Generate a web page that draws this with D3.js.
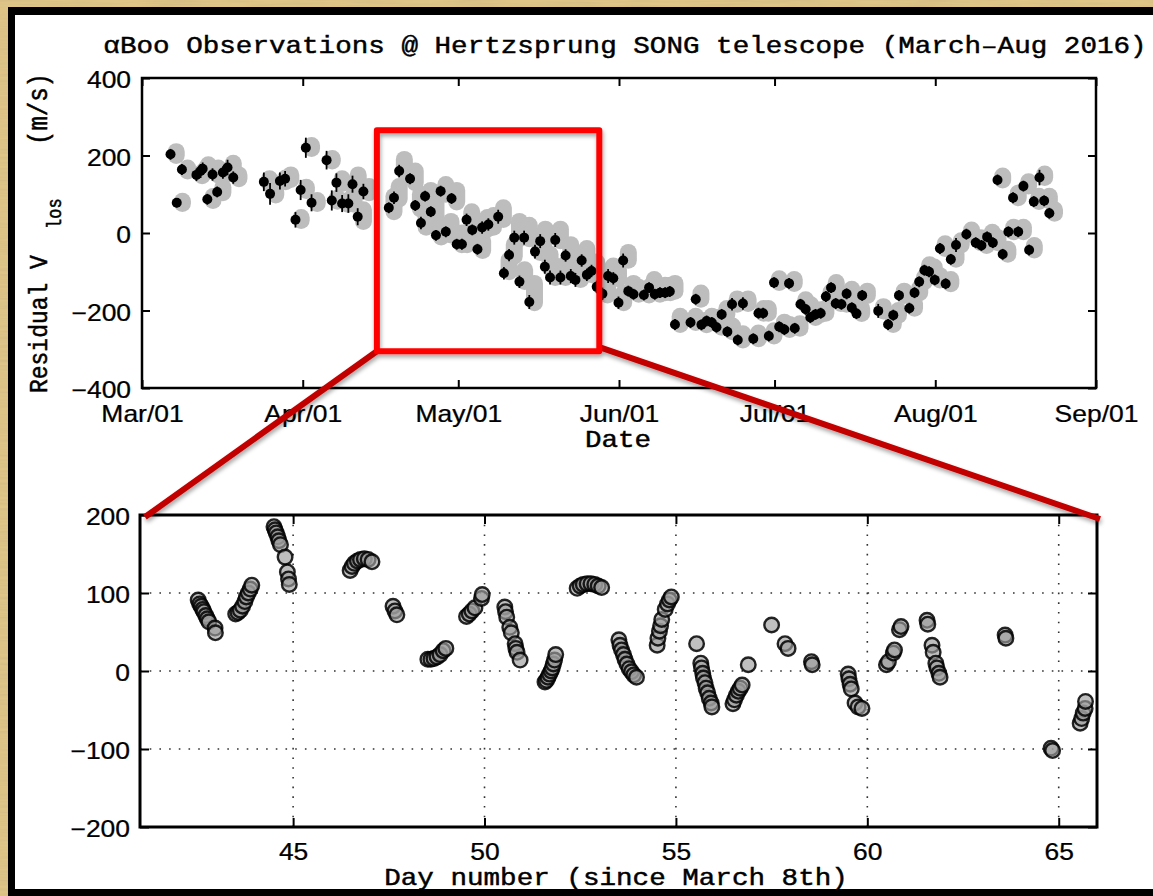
<!DOCTYPE html>
<html>
<head>
<meta charset="utf-8">
<script src="https://cdn.jsdelivr.net/npm/d3@7"></script>
<style>
  html, body { margin: 0; padding: 0; background: #dcc283; overflow: hidden; }
  svg { display: block; }
</style>
</head>
<body>
<svg id="fig" width="1153" height="896"></svg>
<script>
// ---------------- data ----------------
// Nightly means: [days since 2016-03-01, residual velocity (m/s), error (m/s)]
const nightly = [
  [5.5,203,14],[6.7,78,12],[7.7,164,14],[10.5,150,16],[11.3,160,18],[11.7,166,16],
  [12.6,87,14],[13.6,151,16],[14.5,106,14],[15.6,156,16],[16.5,169,20],[17.6,143,16],
  [23.5,132,24],[24.7,101,28],[26.6,134,22],[27.6,140,20],[29.6,34,20],[30.6,111,26],
  [31.6,220,26],[32.7,78,22],[35.6,188,24],[36.6,84,26],[37.5,130,24],[38.6,76,22],
  [39.8,76,24],[40.6,126,22],[41.6,42,22],[42.7,107,20],
  [47.6,65,14],[48.6,91,16],[49.6,160,16],[51.7,140,14],[52.7,71,14],[53.8,26,16],
  [54.6,95,14],[55.7,55,14],[56.7,-6,14],[57.6,108,14],[58.6,3,14],[59.7,89,14],
  [60.7,-29,14],[61.7,-29,14],[62.6,34,16],[63.7,8,14],[64.7,-42,14],[65.6,14,16],
  [66.8,22,16],[68.7,42,18],[69.8,-104,16],[70.8,-57,16],[71.8,-12,18],[72.8,-126,16],
  [73.7,-12,18],[74.7,-178,18],[75.8,-48,18],[76.8,-21,18],[77.7,-87,18],[78.7,-115,18],
  [79.7,-18,18],[80.7,-115,18],[81.7,-58,16],[82.7,-111,18],[83.6,-121,18],[84.8,-71,16],
  [85.8,-108,16],[86.7,-98,16],[87.7,-139,16],[88.8,-157,16],[89.9,-111,18],[90.9,-117,16],
  [91.9,-180,16],[92.8,-71,18],[93.8,-150,14],[94.8,-158,14],[96.8,-160,14],[97.8,-141,14],
  [98.9,-158,14],[99.9,-154,14],[100.9,-154,14],[101.8,-151,14],[102.8,-236,14],
  [105.8,-231,14],[106.8,-171,14],[107.9,-237,14],[108.9,-227,14],[109.9,-231,14],
  [110.8,-243,14],[111.8,-210,14],[112.9,-255,14],[113.8,-184,16],[114.9,-276,14],
  [115.9,-182,16],[117.9,-273,14],[118.9,-207,14],[119.8,-207,14],[120.9,-266,14],
  [121.9,-128,14],[122.9,-242,14],[123.9,-249,14],[124.8,-130,14],[125.9,-246,14],
  [127.0,-184,14],[128.0,-197,14],[128.9,-218,14],[129.9,-210,14],[130.9,-207,14],
  [131.9,-164,14],[132.9,-141,14],[133.8,-182,14],[134.9,-184,14],[135.9,-157,14],
  [136.9,-193,14],[137.8,-208,14],[138.9,-161,14],[142.0,-201,18],[143.9,-236,14],
  [144.9,-212,14],[146.0,-161,14],[148.0,-194,14],[149.0,-154,14],[149.9,-126,14],
  [150.9,-96,14],[151.8,-100,14],[152.9,-121,14],[153.9,-40,14],[155.0,-131,14],
  [156.0,-68,14],[157.0,-31,18],[159.0,-3,14],[160.8,-25,14],[161.9,-32,14],
  [163.0,-10,14],[164.1,-25,14],[165.0,137,14],[166.0,-55,14],[167.1,3,14],
  [168.0,91,14],[169.0,3,14],[170.0,121,14],[171.1,-44,14],[172.0,81,14],
  [173.1,143,20],[174.0,83,14],[175.0,51,14]
];

// Spread of the individual exposures of each night: [day, lowest, highest] (m/s)
const spread = [
  [6.6,200,210],[7.8,76,82],[8.8,160,168],[11.6,148,156],[12.4,158,168],[12.8,164,176],
  [13.7,84,94],[14.7,150,168],[15.6,104,118],[16.7,152,162],[17.6,168,180],[18.7,140,150],
  [24.6,128,140],[25.8,98,106],[27.7,132,142],[28.7,138,150],[30.7,32,40],[31.7,110,118],
  [32.7,218,226],[33.8,76,84],[36.7,186,192],[37.7,82,90],[38.6,128,140],[39.7,74,84],
  [40.9,74,104],[41.7,124,150],[42.7,30,60],[43.8,104,120],
  [48.6,55,95],[49.6,88,120],[50.6,158,190],[52.7,130,160],[53.7,62,100],[54.8,15,50],
  [55.7,85,110],[56.7,45,80],[57.7,-10,20],[58.6,100,125],[59.6,-5,30],[60.7,80,110],
  [61.7,-30,0],[62.7,-30,0],[63.6,25,55],[64.7,0,30],[65.7,-45,-20],[66.6,10,40],
  [67.8,15,45],[69.7,35,65],[70.8,-100,-70],[71.8,-60,-30],[72.8,-15,30],[73.8,-125,-95],
  [74.7,-15,20],[75.7,-180,-130],[76.8,-50,-20],[77.8,-20,10],[78.7,-90,-55],[79.7,-115,-85],
  [80.7,-20,10],[81.7,-115,-80],[82.7,-60,-30],[83.7,-110,-80],[84.6,-120,-90],[85.8,-70,-40],
  [86.8,-108,-85],[87.7,-100,-75],[88.7,-140,-115],[89.8,-160,-130],[90.9,-110,-85],
  [91.9,-118,-95],[92.9,-180,-155],[93.8,-70,-50],[94.8,-150,-130],[95.8,-158,-140],
  [97.8,-160,-140],[98.8,-140,-120],[99.9,-158,-140],[100.9,-154,-135],[101.9,-154,-135],
  [102.8,-150,-130],[103.8,-236,-215],[106.8,-231,-215],[107.8,-171,-155],[108.9,-237,-225],
  [109.9,-227,-215],[110.9,-231,-218],[111.8,-243,-230],[112.8,-210,-195],[113.9,-255,-240],
  [114.8,-184,-170],[115.9,-276,-260],[116.9,-182,-170],[118.9,-273,-258],[119.9,-207,-195],
  [120.8,-207,-195],[121.9,-266,-252],[122.9,-128,-118],[123.9,-242,-230],[124.9,-249,-236],
  [125.8,-130,-120],[126.9,-246,-234],[128.0,-184,-172],[129.0,-197,-185],[129.9,-218,-205],
  [130.9,-210,-198],[131.9,-207,-195],[132.9,-164,-152],[133.9,-141,-128],[134.8,-182,-170],
  [135.9,-184,-172],[136.9,-157,-145],[137.9,-193,-180],[138.8,-208,-195],[139.9,-161,-150],
  [143.0,-201,-190],[144.9,-236,-224],[145.9,-212,-200],[147.0,-161,-150],[149.0,-194,-182],
  [150.0,-154,-142],[150.9,-126,-115],[151.9,-96,-82],[152.8,-100,-88],[153.9,-121,-110],
  [154.9,-40,-28],[156.0,-131,-120],[157.0,-68,-55],[158.0,-31,-20],[160.0,-3,8],
  [161.8,-25,-12],[162.9,-32,-20],[164.0,-10,2],[165.1,-25,-12],[166.0,137,147],
  [167.0,-55,-42],[168.1,3,15],[169.0,91,103],[170.0,3,15],[171.0,121,132],
  [172.1,-44,-32],[173.0,81,95],[174.1,143,152],[175.0,83,95],[176.0,51,60]
];

// Individual exposures, day number since March 8th vs residual (m/s)
const exposures = [
  [42.52,91],[42.56,86],[42.6,83],[42.64,79],[42.67,76],[42.72,71],[42.76,67],[42.8,63],[42.96,55],[42.97,49],
  [43.5,73],[43.56,75],[43.62,78],[43.68,83],[43.74,89],[43.78,95],[43.83,100],[43.88,105],[43.92,110],
  [44.5,185],[44.53,181],[44.56,177],[44.6,172],[44.63,167],[44.67,162],[44.79,146],[44.85,127],[44.88,118],[44.9,111],
  [46.49,129],[46.54,134],[46.6,138],[46.68,141],[46.76,143],[46.86,144],[46.96,143],[47.06,140],
  [47.61,83],[47.66,77],[47.71,72],
  [48.52,15],[48.6,15],[48.68,16],[48.76,18],[48.84,21],[48.92,26],[48.99,29],
  [49.53,70],[49.6,73],[49.67,77],[49.75,81],[49.92,93],[49.94,98],
  [50.53,82],[50.55,76],[50.58,69],[50.66,56],[50.7,49],[50.8,35],[50.82,29],[50.85,24],[50.93,14],
  [51.58,-14],[51.62,-12],[51.66,-8],[51.7,-4],[51.74,0],[51.77,4],[51.8,9],[51.83,14],[51.86,21],
  [52.42,106],[52.5,109],[52.58,111],[52.68,112],[52.78,112],[52.88,111],[52.97,109],[53.06,107],
  [53.51,40],[53.54,33],[53.58,27],[53.63,21],[53.67,15],[53.72,9],[53.78,3],[53.84,-1],[53.9,-5],[53.97,-8],
  [54.51,33],[54.53,42],[54.57,51],[54.6,58],[54.63,66],[54.72,79],[54.78,86],[54.83,91],[54.88,95],
  [55.54,35],
  [55.65,10],[55.67,4],[55.7,-3],[55.72,-9],[55.76,-15],[55.79,-22],[55.83,-28],[55.87,-35],[55.92,-41],[55.94,-46],
  [56.49,-42],[56.53,-37],[56.58,-31],[56.63,-26],[56.68,-22],[56.73,-18],
  [56.89,8],[57.5,59],[57.85,35],[57.93,29],[58.54,12],[58.56,8],
  [59.5,-4],[59.52,-10],[59.55,-17],[59.58,-23],[59.68,-41],[59.76,-46],[59.86,-48],
  [60.5,8],[60.55,12],[60.68,23],[60.71,27],[60.84,53],[60.88,57],
  [61.56,65],[61.58,60],[61.69,33],[61.72,24],[61.79,10],[61.82,4],[61.87,-3],[61.9,-8],
  [63.6,46],[63.62,42],
  [64.8,-99],[64.84,-102],
  [65.56,-67],[65.6,-61],[65.64,-54],[65.69,-48],[65.7,-39]
];

// Axis ticks and labels
const monthLabels = ["Mar/01","Apr/01","May/01","Jun/01","Jul/01","Aug/01","Sep/01"];
const velTicksTop = [-400,-200,0,200,400];
const dayTicks = [45,50,55,60,65];
const velTicksBottom = [-200,-100,0,100,200];
const gridVel = [-100,0,100];

// Highlighted window in the upper panel: [start day, end day], [upper, lower] velocity
const zoomDays = [45.3,88.2];
const zoomVel = [265,-305];

// ---------------- drawing ----------------
const W = 1153, H = 896;
const SX = 1.15; // horizontal glyph stretch
const MONO = "'Liberation Mono','DejaVu Sans Mono',monospace";
const SANS = "'Liberation Sans',Arial,Helvetica,sans-serif";
const svg = d3.select("#fig");
const defs = svg.append("defs");

// parchment texture for the surround
const paper = defs.append("filter").attr("id","paper").attr("x",0).attr("y",0).attr("width","100%").attr("height","100%");
paper.append("feTurbulence").attr("type","fractalNoise").attr("baseFrequency","0.02 0.35").attr("numOctaves",3).attr("seed",4).attr("result","n");
paper.append("feColorMatrix").attr("in","n").attr("type","matrix")
  .attr("values","0 0 0 0 0.62  0 0 0 0 0.47  0 0 0 0 0.22  1.1 0 0 0 -0.35");

const shadow = defs.append("filter").attr("id","shadow").attr("x","-10%").attr("y","-10%").attr("width","120%").attr("height","130%");
shadow.append("feDropShadow").attr("dx",1).attr("dy",3).attr("stdDeviation",2)
  .attr("flood-color","#000").attr("flood-opacity",0.35);

svg.append("rect").attr("width",W).attr("height",H).attr("fill","#dfc587");
svg.append("rect").attr("width",W).attr("height",H).attr("fill","#fff").attr("filter","url(#paper)");
svg.append("rect").attr("x",8).attr("y",7).attr("width",W).attr("height",H).attr("fill","#000");
svg.append("rect").attr("x",15).attr("y",15).attr("width",W).attr("height",874).attr("fill","#fff");

function txt(parent, x, y, str, font, size, anchor) {
  return parent.append("text")
    .attr("transform", `translate(${x},${y}) scale(${SX},1)`)
    .attr("font-family", font).attr("font-size", size)
    .attr("text-anchor", anchor || "middle").attr("fill", "#000")
    .attr("stroke", "#000").attr("stroke-width", 0.45)
    .text(str);
}

function styleAxis(g, size) {
  g.select(".domain").remove();
  g.selectAll(".tick line").attr("stroke","#000").attr("stroke-width",2);
  g.selectAll(".tick text").attr("font-family",SANS).attr("font-size",size).attr("fill","#000")
    .attr("stroke","#000").attr("stroke-width",0.25);
}

// ---------- upper panel ----------
const P1 = {l:142, r:1096, t:78, b:388};
const t0 = Date.UTC(2016,2,1);
const toDate = d => new Date(t0 + d*864e5);
const x1 = d3.scaleUtc().domain([toDate(0), new Date(Date.UTC(2016,8,1))]).range([P1.l,P1.r]);
const y1 = d3.scaleLinear().domain([-400,400]).range([P1.b,P1.t]);
const monthTicks = d3.utcMonth.range(new Date(Date.UTC(2016,2,1)), new Date(Date.UTC(2016,8,2)));

const g1 = svg.append("g");
g1.append("g").selectAll("path").data(spread).join("path")
  .attr("d", d => `M${x1(toDate(d[0]))},${y1(d[1])}L${x1(toDate(d[0]))},${y1(d[2])}`)
  .attr("stroke","#bdbdbd").attr("stroke-width",17).attr("stroke-linecap","round").attr("fill","none");
g1.append("g").selectAll("line").data(nightly).join("line")
  .attr("x1", d => x1(toDate(d[0]))).attr("x2", d => x1(toDate(d[0])))
  .attr("y1", d => y1(d[1]-d[2])).attr("y2", d => y1(d[1]+d[2]))
  .attr("stroke","#000").attr("stroke-width",1.8);
g1.append("g").selectAll("circle").data(nightly).join("circle")
  .attr("cx", d => x1(toDate(d[0]))).attr("cy", d => y1(d[1])).attr("r",5).attr("fill","#000");

const ax1b = g1.append("g").attr("transform",`translate(0,${P1.b})`)
  .call(d3.axisBottom(x1).tickValues(monthTicks).tickFormat((d,i)=>monthLabels[i]).tickSize(-8).tickPadding(17.5));
styleAxis(ax1b, 23);
ax1b.selectAll(".tick text").attr("transform",`scale(${SX},1)`);
const ax1t = g1.append("g").attr("transform",`translate(0,${P1.t})`)
  .call(d3.axisTop(x1).tickValues(monthTicks).tickFormat("").tickSize(-8));
styleAxis(ax1t, 23);
const ax1l = g1.append("g").attr("transform",`translate(${P1.l},0)`)
  .call(d3.axisLeft(y1).tickValues(velTicksTop).tickSize(-8).tickPadding(9.5));
styleAxis(ax1l, 23);
ax1l.selectAll(".tick text").attr("dy","0.42em").attr("transform",`scale(${SX},1)`);
const ax1r = g1.append("g").attr("transform",`translate(${P1.r},0)`)
  .call(d3.axisRight(y1).tickValues(velTicksTop).tickFormat("").tickSize(-8));
styleAxis(ax1r, 23);
g1.append("rect").attr("x",P1.l).attr("y",P1.t).attr("width",P1.r-P1.l).attr("height",P1.b-P1.t)
  .attr("fill","none").attr("stroke","#000").attr("stroke-width",2.5);

txt(svg, 625, 53, "αBoo Observations @ Hertzsprung SONG telescope (March\u2013Aug 2016)", MONO, 24);
txt(svg, 618, 447, "Date", MONO, 24);

// rotated axis title with subscript
function vtxt(x, y, str, size, anchor) {
  return svg.append("text")
    .attr("transform", `translate(${x},${y}) scale(${SX},1) rotate(-90)`)
    .attr("font-family", MONO).attr("font-size", size)
    .attr("stroke","#000").attr("stroke-width",0.45)
    .attr("text-anchor", anchor).attr("fill","#000").text(str);
}
vtxt(47, 393, "Residual V", 23, "start");
vtxt(61, 229, "los", 17, "start");
vtxt(47, 73, "(m/s)", 24, "end");

// ---------- lower panel ----------
const P2 = {l:140, r:1097, t:515, b:827};
const x2 = d3.scaleLinear().domain([41,66]).range([P2.l,P2.r]);
const y2 = d3.scaleLinear().domain([-200,200]).range([P2.b,P2.t]);
const g2 = svg.append("g");

// dotted grid
g2.append("g").selectAll("line").data(dayTicks).join("line")
  .attr("x1", d => x2(d)).attr("x2", d => x2(d)).attr("y1",P2.t).attr("y2",P2.b)
  .attr("stroke","#333").attr("stroke-width",1.6).attr("stroke-dasharray","1.6,8.1");
g2.append("g").selectAll("line").data(gridVel).join("line")
  .attr("y1", d => y2(d)).attr("y2", d => y2(d)).attr("x1",P2.l).attr("x2",P2.r)
  .attr("stroke","#333").attr("stroke-width",1.6).attr("stroke-dasharray","1.6,8.1");

g2.append("g").selectAll("circle").data(exposures).join("circle")
  .attr("cx", d => x2(d[0])).attr("cy", d => y2(d[1])).attr("r",7.3)
  .attr("fill","#9c9c9c").attr("fill-opacity",0.65)
  .attr("stroke","#000").attr("stroke-width",2.4).attr("stroke-opacity",0.85);

const ax2b = g2.append("g").attr("transform",`translate(0,${P2.b})`)
  .call(d3.axisBottom(x2).tickValues(dayTicks).tickFormat(d3.format("d")).tickSize(-9).tickPadding(16.5));
styleAxis(ax2b, 23);
ax2b.selectAll(".tick text").attr("transform",`scale(${SX},1)`);
const ax2t = g2.append("g").attr("transform",`translate(0,${P2.t})`)
  .call(d3.axisTop(x2).tickValues(dayTicks).tickFormat("").tickSize(-9));
styleAxis(ax2t, 23);
const ax2l = g2.append("g").attr("transform",`translate(${P2.l},0)`)
  .call(d3.axisLeft(y2).tickValues(velTicksBottom).tickSize(-9).tickPadding(8.7));
styleAxis(ax2l, 23);
ax2l.selectAll(".tick text").attr("dy","0.42em").attr("transform",`scale(${SX},1)`);
const ax2r = g2.append("g").attr("transform",`translate(${P2.r},0)`)
  .call(d3.axisRight(y2).tickValues(velTicksBottom).tickFormat("").tickSize(-9));
styleAxis(ax2r, 23);
g2.append("rect").attr("x",P2.l).attr("y",P2.t).attr("width",P2.r-P2.l).attr("height",P2.b-P2.t)
  .attr("fill","none").attr("stroke","#000").attr("stroke-width",3);

txt(svg, 616, 885, "Day number (since March 8th)", MONO, 24);

// ---------- zoom annotation ----------
const bx0 = x1(toDate(zoomDays[0])), bx1 = x1(toDate(zoomDays[1]));
const by0 = y1(zoomVel[0]), by1 = y1(zoomVel[1]);
const ann = svg.append("g").attr("filter","url(#shadow)");
ann.append("line").attr("x1",bx0).attr("y1",by1).attr("x2",P2.l+5).attr("y2",P2.t+2)
  .attr("stroke","#c20000").attr("stroke-width",6);
ann.append("line").attr("x1",bx1).attr("y1",by1-4).attr("x2",P2.r+3).attr("y2",P2.t+4)
  .attr("stroke","#c20000").attr("stroke-width",6);
ann.append("rect").attr("x",bx0).attr("y",by0).attr("width",bx1-bx0).attr("height",by1-by0)
  .attr("fill","none").attr("stroke","#ff0000").attr("stroke-width",6).attr("stroke-linejoin","round");
</script>
</body>
</html>
